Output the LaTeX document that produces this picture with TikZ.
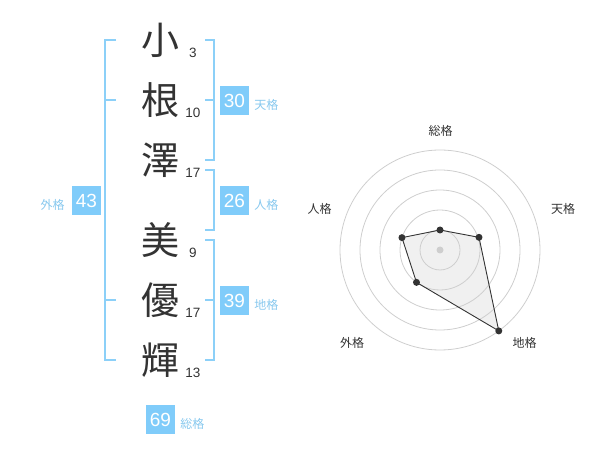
\documentclass[tikz,border=0pt]{standalone}
\usepackage{fontspec}
\setmainfont{Liberation Sans}
\newfontfamily\jpfont{Noto Sans CJK JP}
\usepackage{xcolor}
\usetikzlibrary{positioning,calc}
\definecolor{kakublue}{RGB}{128,204,250}
\definecolor{kakuline}{RGB}{140,208,248}
\definecolor{kakutext}{RGB}{135,200,238}
\definecolor{inkgray}{RGB}{51,51,51}
\definecolor{ringgray}{RGB}{206,206,206}
\definecolor{radarfill}{RGB}{240,240,240}

\tikzset{
  kanji/.style={font=\jpfont\fontsize{38}{38}\selectfont, text=inkgray, inner sep=0pt},
  strokes/.style={font=\fontsize{13.5}{14}\selectfont, text=inkgray, inner sep=0pt},
  kakubox/.style={fill=kakublue, text=white, minimum size=29pt, inner sep=0pt, font=\fontsize{19}{19}\selectfont},
  kakulabel/.style={font=\jpfont\fontsize{12}{12}\selectfont, text=kakutext, inner sep=0pt},
  bracket/.style={draw=kakuline, line width=2pt},
  axislabel/.style={font=\jpfont\fontsize{12}{12}\selectfont, text=inkgray, inner sep=0pt}
}

\begin{document}
\begin{tikzpicture}[x=1pt, y=-1pt]
    \useasboundingbox (0,0) rectangle (600,470);

    % Name characters and stroke counts
    \foreach \k/\y/\n/\name in {小/40/3/sho, 根/100/10/ne, 澤/160/17/sawa, 美/240/9/mi, 優/300/17/yu, 輝/360/13/ki} {
        \node[kanji] (\name) at (160,\y) {\k};
        \node[strokes] (\name n) at (193,\y+12.5) {\n};
    }

    % Brackets
    \draw[bracket] (116,40) -- (105,40) -- (105,360) -- (116,360);
    \foreach \y in {100,300} {
        \draw[bracket] (105,\y) -- (116,\y);
    }
    \draw[bracket] (205,40) -- (214,40) -- (214,160) -- (205,160);
    \draw[bracket] (205,100) -- (214,100);
    \draw[bracket] (205,170) -- (214,170) -- (214,230) -- (205,230);
    \draw[bracket] (205,240) -- (214,240) -- (214,360) -- (205,360);
    \draw[bracket] (205,300) -- (214,300);

    % Scores
    \node[kakubox] (ten) at (234.5,100.5) {30};
    \node[kakulabel, right=5pt of ten, yshift=-4pt] (tenl) {天格};
    \node[kakubox] (jin) at (234.5,200.5) {26};
    \node[kakulabel, right=5pt of jin, yshift=-4pt] (jinl) {人格};
    \node[kakubox] (chi) at (234.5,300.5) {39};
    \node[kakulabel, right=5pt of chi, yshift=-4pt] (chil) {地格};
    \node[kakubox] (gai) at (86.5,200.5) {43};
    \node[kakulabel, left=7pt of gai, yshift=-4pt] (gail) {外格};
    \node[kakubox] (so) at (160.5,419.5) {69};
    \node[kakulabel, right=5pt of so, yshift=-4pt] (sol) {総格};

    % Radar chart
    \coordinate (rc) at (440,250);
    \foreach \a/\r/\i in {90/20/1, 18/41/2, -54/100/3, -126/40/4, 162/40/5} {
        \coordinate (p\i) at ($(rc)+(\a:\r pt)$);
    }
    \fill[radarfill] (p1) -- (p2) -- (p3) -- (p4) -- (p5) -- cycle;
    \foreach \r in {20,40,60,80,100} {
        \draw[ringgray, line width=0.8pt] (rc) circle[radius=\r pt];
    }
    \fill[ringgray] (rc) circle[radius=3.5pt];
    \draw[inkgray, line width=0.9pt] (p1) -- (p2) -- (p3) -- (p4) -- (p5) -- cycle;
    \foreach \i in {1,...,5} {
        \fill[inkgray] (p\i) circle[radius=3.5pt];
    }

    % Axis labels
    \node[axislabel] (axso) at (440.5,130.5) {総格};
    \node[axislabel] (axten) at (563,208.5) {天格};
    \node[axislabel] (axchi) at (524.5,342.5) {地格};
    \node[axislabel] (axgai) at (352,342.5) {外格};
    \node[axislabel] (axjin) at (319.5,208.5) {人格};
\end{tikzpicture}
\end{document}
